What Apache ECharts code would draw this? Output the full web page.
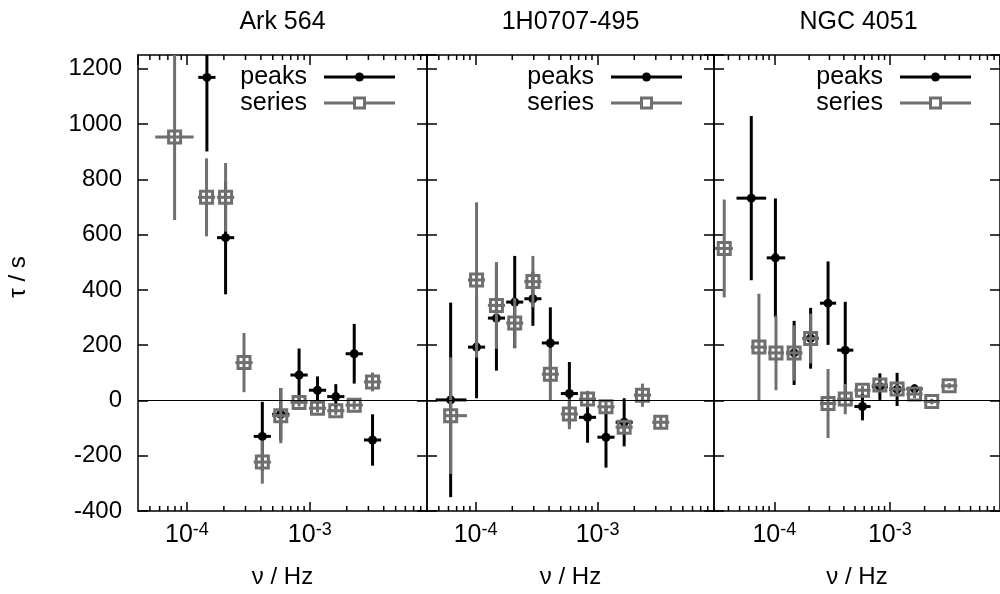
<!DOCTYPE html>
<html><head><meta charset="utf-8">
<script src="https://cdn.jsdelivr.net/npm/echarts@6/dist/echarts.min.js"></script>
<style>html,body{margin:0;padding:0;background:#fff}#c{width:1000px;height:594px}</style>
</head><body><div id="c"></div>
<script>
// ---- data: [frequency (Hz), tau (s), tau error (s), freq low (0 = default bin), freq high]
const panelTitles = ['Ark 564', '1H0707-495', 'NGC 4051'];
const xRanges = [[4e-5, 9e-3], [4e-5, 9e-3], [3e-5, 9e-3]];
const yRange = [-400, 1250];
const yTickStep = 200;
const xLabelName = 'ν / Hz';
const yLabelName = 'τ / s';
const legendNames = ['peaks', 'series'];

const ark564Peaks = [
  [1.455e-4, 1169, 268, 0, 0],
  [2.065e-4, 589, 205, 0, 0],
  [4.111e-4, -130, 125, 0, 0],
  [5.808e-4, -50, 95, 0, 0],
  [8.185e-4, 92, 96, 0, 0],
  [1.156e-3, 37, 50, 0, 0],
  [1.629e-3, 14, 45, 0, 0],
  [2.301e-3, 169, 108, 0, 0],
  [3.243e-3, -143, 93, 0, 0]
];
const ark564Series = [
  [7.943e-5, 953, 300, 5.53e-5, 1.135e-4],
  [1.445e-4, 735, 141, 0, 0],
  [2.065e-4, 735, 124, 0, 0],
  [2.917e-4, 137, 107, 0, 0],
  [4.111e-4, -223, 78, 0, 0],
  [5.808e-4, -55, 100, 0, 0],
  [8.185e-4, -7, 15, 0, 0],
  [1.156e-3, -28, 15, 0, 0],
  [1.629e-3, -37, 15, 0, 0],
  [2.301e-3, -17, 15, 0, 0],
  [3.243e-3, 67, 34, 0, 0]
];
const h0707Peaks = [
  [6.25e-5, 2, 352, 4.71e-5, 8.43e-5],
  [1.019e-4, 193, 185, 0, 0],
  [1.483e-4, 298, 190, 0, 0],
  [2.094e-4, 356, 167, 0, 0],
  [2.951e-4, 368, 98, 0, 0],
  [4.102e-4, 208, 129, 0, 0],
  [5.875e-4, 25, 114, 0, 0],
  [8.28e-4, -61, 92, 0, 0],
  [1.172e-3, -133, 110, 0, 0],
  [1.652e-3, -79, 87, 0, 0]
];
const h0707Series = [
  [6.25e-5, -55, 211, 5.5e-5, 8.5e-5],
  [1.019e-4, 436, 281, 0, 0],
  [1.483e-4, 344, 157, 0, 0],
  [2.094e-4, 280, 90, 0, 0],
  [2.951e-4, 430, 93, 0, 0],
  [4.102e-4, 95, 95, 0, 0],
  [5.875e-4, -49, 55, 0, 0],
  [8.28e-4, 5, 30, 0, 0],
  [1.172e-3, -23, 25, 0, 0],
  [1.652e-3, -97, 20, 0, 0],
  [2.333e-3, 19, 42, 0, 0],
  [3.296e-3, -79, 20, 0, 0]
];
const ngc4051Peaks = [
  [6.31e-5, 732, 297, 4.7e-5, 8.49e-5],
  [1.021e-4, 516, 215, 8.59e-5, 1.242e-4],
  [1.483e-4, 172, 116, 0, 0],
  [2.061e-4, 225, 110, 0, 0],
  [2.917e-4, 352, 151, 0, 0],
  [4.111e-4, 182, 175, 0, 0],
  [5.794e-4, -22, 50, 0, 0],
  [8.2e-4, 50, 48, 0, 0],
  [1.156e-3, 40, 60, 0, 0],
  [1.637e-3, 42, 15, 0, 0]
];
const ngc4051Series = [
  [3.68e-5, 550, 177, 3.06e-5, 4.37e-5],
  [7.35e-5, 193, 193, 0, 0],
  [1.033e-4, 172, 135, 0, 0],
  [1.483e-4, 172, 100, 0, 0],
  [2.061e-4, 224, 90, 0, 0],
  [2.917e-4, -11, 125, 0, 0],
  [4.111e-4, 5, 55, 0, 0],
  [5.794e-4, 37, 15, 0, 0],
  [8.2e-4, 56, 15, 0, 0],
  [1.156e-3, 41, 15, 0, 0],
  [1.637e-3, 23, 15, 0, 0],
  [2.307e-3, -4, 10, 0, 0],
  [3.266e-3, 53, 10, 0, 0]
];
const panelData = [
  [ark564Peaks, ark564Series],
  [h0707Peaks, h0707Series],
  [ngc4051Peaks, ngc4051Series]
];

// ---- layout / style
const FONT = '"Liberation Sans", Arial, Helvetica, sans-serif';
const GRAY = '#6f6f6f';
const BIN = 1.175;
const gridLefts = [138, 427, 714];
const gridWidths = [289, 287, 289];
const gridTop = 55, gridHeight = 460;

const minorTicks = [];
for (let e = -5; e <= -3; e++) for (let m = 2; m <= 9; m++) minorTicks.push(m * Math.pow(10, e));

function errRender(kind) {
  return function (params, api) {
    const f = api.value(0), t = api.value(1), e = api.value(2);
    let lo = api.value(3), hi = api.value(4);
    if (!(lo > 0)) { lo = f / BIN; hi = f * BIN; }
    const c = api.coord([f, t]);
    const pT = api.coord([f, t + e]), pB = api.coord([f, t - e]);
    const pL = api.coord([lo, t]), pH = api.coord([hi, t]);
    const color = kind === 'peaks' ? '#000' : GRAY;
    const ch = [
      { type: 'line', shape: { x1: c[0], y1: pT[1], x2: c[0], y2: pB[1] }, style: { stroke: color, lineWidth: 3 } },
      { type: 'line', shape: { x1: pL[0], y1: c[1], x2: pH[0], y2: c[1] }, style: { stroke: color, lineWidth: 3 } }
    ];
    if (kind === 'peaks') ch.push({ type: 'circle', shape: { cx: c[0], cy: c[1], r: 4.5 }, style: { fill: '#000' } });
    else ch.push({ type: 'rect', shape: { x: c[0] - 6, y: c[1] - 6, width: 12, height: 12 }, style: { fill: 'none', stroke: GRAY, lineWidth: 3 } });
    return { type: 'group', children: ch };
  };
}

const grid = [], xAxis = [], yAxis = [], series = [], title = [], graphic = [];
const axisLineStyle = { show: true, onZero: false, lineStyle: { color: '#000', width: 1.5 } };
for (let i = 0; i < 3; i++) {
  grid.push({ left: gridLefts[i], top: gridTop, width: gridWidths[i], height: gridHeight, containLabel: false });
  title.push({
    text: panelTitles[i], left: gridLefts[i] + gridWidths[i] / 2, top: 10, textAlign: 'center', padding: 0,
    textStyle: { fontFamily: FONT, fontSize: 25, fontWeight: 'normal', color: '#000' }
  });
}
for (let i = 0; i < 3; i++) {
  xAxis.push({
    type: 'log', gridIndex: i, min: xRanges[i][0], max: xRanges[i][1], position: 'bottom',
    axisLine: axisLineStyle, splitLine: { show: false },
    axisTick: { inside: true, length: 9, lineStyle: { color: '#000', width: 1.5 } },
    axisLabel: {
      showMinLabel: false, showMaxLabel: false, margin: 10,
      formatter: v => '{m|10}{e|' + Math.round(Math.log10(v)) + '}',
      rich: {
        m: { fontFamily: FONT, fontSize: 25, lineHeight: 29, color: '#000' },
        e: { fontFamily: FONT, fontSize: 18, lineHeight: 18, verticalAlign: 'top', color: '#000' }
      }
    },
    name: xLabelName, nameLocation: 'middle', nameGap: 54,
    nameTextStyle: { fontFamily: FONT, fontSize: 24, color: '#000' }
  });
}
for (let i = 0; i < 3; i++) {
  xAxis.push({
    type: 'log', gridIndex: i, min: xRanges[i][0], max: xRanges[i][1], position: 'top',
    axisLine: axisLineStyle, splitLine: { show: false },
    axisTick: { inside: true, length: 10, lineStyle: { color: '#000', width: 1.5 } },
    axisLabel: { show: false }
  });
}
for (let i = 0; i < 3; i++) {
  yAxis.push({
    type: 'value', gridIndex: i, min: yRange[0], max: yRange[1], interval: yTickStep, position: 'left',
    axisLine: axisLineStyle, splitLine: { show: false },
    axisTick: { inside: true, length: 10, lineStyle: { color: '#000', width: 1.5 } },
    axisLabel: { show: i === 0, showMaxLabel: false, margin: 16, fontFamily: FONT, fontSize: 24, color: '#000',
      formatter: v => String(v) },
    name: i === 0 ? yLabelName : '', nameLocation: 'middle', nameGap: 108,
    nameTextStyle: { fontFamily: FONT, fontSize: 24, color: '#000', padding: [0, 0, 0, 12] }
  });
}
for (let i = 0; i < 3; i++) {
  yAxis.push({
    type: 'value', gridIndex: i, min: yRange[0], max: yRange[1], interval: yTickStep, position: 'right',
    axisLine: axisLineStyle, splitLine: { show: false },
    axisTick: { inside: true, length: 10, lineStyle: { color: '#000', width: 1.5 } },
    axisLabel: { show: false }
  });
}
for (let i = 0; i < 3; i++) {
  series.push({
    type: 'custom', xAxisIndex: i, yAxisIndex: i, silent: true, clip: false, z: 1,
    encode: { x: 0, y: 1 },
    data: minorTicks.filter(v => v > xRanges[i][0] && v < xRanges[i][1]).map(v => [v, 0]),
    renderItem: (params, api) => {
      const x = api.coord([api.value(0), 0])[0];
      const cs = params.coordSys;
      const st = { stroke: '#000', lineWidth: 1.5 };
      return { type: 'group', children: [
        { type: 'line', shape: { x1: x, y1: cs.y + cs.height, x2: x, y2: cs.y + cs.height - 5 }, style: st },
        { type: 'line', shape: { x1: x, y1: cs.y, x2: x, y2: cs.y + 5 }, style: st }
      ] };
    },
    markLine: {
      silent: true, symbol: ['none', 'none'], label: { show: false }, animation: false,
      lineStyle: { color: '#000', width: 1.2, type: 'solid' }, data: [{ yAxis: 0 }]
    }
  });
  series.push({
    name: legendNames[0], type: 'custom', xAxisIndex: i, yAxisIndex: i, silent: true, clip: true, z: 3,
    encode: { x: 0, y: 1 }, data: panelData[i][0], renderItem: errRender('peaks')
  });
  series.push({
    name: legendNames[1], type: 'custom', xAxisIndex: i, yAxisIndex: i, silent: true, clip: true, z: 4,
    encode: { x: 0, y: 1 }, data: panelData[i][1], renderItem: errRender('series')
  });
  // legend (drawn as graphic elements)
  const r = gridLefts[i] + gridWidths[i];
  const rows = [77, 103];
  for (let k = 0; k < 2; k++) {
    const col = k === 0 ? '#000' : GRAY;
    graphic.push({ type: 'text', x: r - 120, y: rows[k], style: {
      text: legendNames[k], align: 'right', verticalAlign: 'middle', textAlign: 'right', textVerticalAlign: 'middle',
      fill: '#000', font: '25px ' + FONT } });
    graphic.push({ type: 'line', shape: { x1: r - 103, y1: rows[k], x2: r - 32, y2: rows[k] }, style: { stroke: col, lineWidth: 3 } });
    if (k === 0) graphic.push({ type: 'circle', shape: { cx: r - 67.5, cy: rows[k], r: 4.5 }, style: { fill: '#000' } });
    else graphic.push({ type: 'rect', shape: { x: r - 67.5 - 5, y: rows[k] - 5, width: 10, height: 10 }, style: { fill: '#fff', stroke: GRAY, lineWidth: 3 } });
  }
}

const chart = echarts.init(document.getElementById('c'), null, { renderer: 'canvas' });
chart.setOption({ animation: false, backgroundColor: '#fff', title, grid, xAxis, yAxis, series, graphic });
</script>
</body></html>
